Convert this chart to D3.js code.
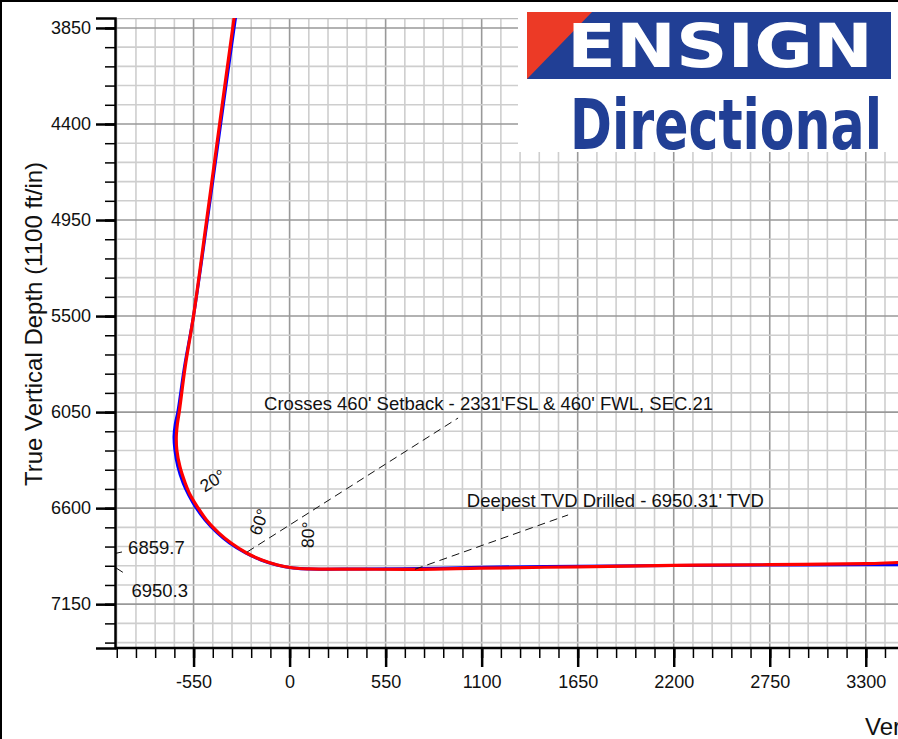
<!DOCTYPE html>
<html>
<head>
<meta charset="UTF-8">
<script src="https://d3js.org/d3.v7.min.js"></script>
<style>
    body { margin: 0; background: #fff; overflow: hidden; }
    text { font-family: "Liberation Sans", Arial, sans-serif; fill: #111; }
</style>
</head>
<body>
<div id="chart"></div>
<script>
    // actual wellbore (red) - vertical section (ft) and true vertical depth (ft)
    const actualVS  = [-304, -318, -400, -475, -551, -598, -632, -643, -649, -646, -628, -598, -569, -524, -476, -406, -335, -246, -159, -69, 24, 117, 400, 747, 1100, 1650, 2200, 2750, 3300, 3500, 3800];
    const actualTVD = [3700, 3793, 4394, 4950, 5504, 5790, 6048, 6120, 6190, 6267, 6363, 6456, 6525, 6599, 6668, 6742, 6800, 6857, 6897, 6926, 6943, 6948, 6949.5, 6950.3, 6944, 6936, 6928, 6924, 6918, 6911, 6905];

    // plan (blue)
    const planVS  = [-296, -310, -394, -471, -551, -602, -640, -655, -662, -657, -640, -610, -578, -535, -484, -414, -344, -252, -164, -73, 20, 115, 400, 747, 1100, 1650, 2200, 2750, 3300, 3800];
    const planTVD = [3700, 3793, 4394, 4950, 5504, 5790, 6048, 6120, 6190, 6267, 6363, 6456, 6525, 6599, 6668, 6742, 6800, 6857, 6897, 6926, 6943, 6949, 6948, 6946, 6938, 6933, 6929, 6926, 6924, 6923];

    // tick values
    const vsMajor  = d3.range(-550, 3301, 550);
    const vsMinor  = d3.range(-990, 3600, 110);
    const tvdMajor = d3.range(3850, 7400, 550);
    const tvdMinor = d3.range(3850, 7401, 110);

    // annotations
    const notes = [
        {text: "Crosses 460' Setback - 2331'FSL & 460' FWL, SEC.21", vs: -146, tvd: 6038, fromVS: -243, fromTVD: 6851, toVS: 965, toTVD: 6084},
        {text: "Deepest TVD Drilled - 6950.31' TVD", vs: 1015, tvd: 6592, fromVS: 718, fromTVD: 6950, toVS: 1595, toTVD: 6639}
    ];
    const angleLabels = [
        {text: "20°", vs: -486, tvd: 6512, rot: -32},
        {text: "60°", vs: -168, tvd: 6762, rot: -70},
        {text: "80°", vs: 137, tvd: 6830, rot: -88}
    ];
    const depthMarks = [6859.7, 6950.3];

    const W = 898, H = 739;
    const mLeft = 115, mTop = 18, mBottom = 648;

    const svg = d3.select("#chart").append("svg")
        .attr("width", W).attr("height", H);

    // same ft-per-pixel scale on both axes
    const x = d3.scaleLinear().domain([-1000, 4000]).range([mLeft, mLeft + 5000 * 0.1746]);
    const y = d3.scaleLinear().domain([3793, 7401]).range([mTop, mBottom]);

    svg.append("clipPath").attr("id", "plotclip")
        .append("rect").attr("x", mLeft).attr("y", mTop)
        .attr("width", W - mLeft).attr("height", mBottom - mTop);

    const plot = svg.append("g").attr("clip-path", "url(#plotclip)");

    // grid
    plot.selectAll(".vgrid").data(vsMinor).join("line")
        .attr("x1", d => x(d)).attr("x2", d => x(d))
        .attr("y1", mTop).attr("y2", mBottom)
        .attr("stroke", d => d % 550 === 0 ? "#999" : "#cecece")
        .attr("stroke-width", 1.6);
    plot.selectAll(".hgrid").data(tvdMinor).join("line")
        .attr("x1", mLeft).attr("x2", W)
        .attr("y1", d => y(d)).attr("y2", d => y(d))
        .attr("stroke", d => (d - 3850) % 550 === 0 ? "#999" : "#cecece")
        .attr("stroke-width", 1.6);
    plot.append("line")
        .attr("x1", mLeft).attr("x2", W).attr("y1", mTop + 0.5).attr("y2", mTop + 0.5)
        .attr("stroke", "#bbb").attr("stroke-width", 1.5);

    // wells
    const line = d3.line()
        .x(d => x(d[0])).y(d => y(d[1]))
        .curve(d3.curveCatmullRom.alpha(0.5));

    plot.append("path")
        .attr("d", line(d3.zip(planVS, planTVD)))
        .attr("fill", "none").attr("stroke", "#0000ff").attr("stroke-width", 3);
    plot.append("path")
        .attr("d", line(d3.zip(actualVS, actualTVD)))
        .attr("fill", "none").attr("stroke", "#ff0000").attr("stroke-width", 3.2);

    // leader lines and notes
    plot.selectAll(".leader").data(notes).join("line")
        .attr("x1", d => x(d.fromVS)).attr("y1", d => y(d.fromTVD))
        .attr("x2", d => x(d.toVS)).attr("y2", d => y(d.toTVD))
        .attr("stroke", "#111").attr("stroke-width", 1)
        .attr("stroke-dasharray", "8,5");
    plot.selectAll(".note").data(notes).join("text")
        .attr("x", d => x(d.vs)).attr("y", d => y(d.tvd))
        .style("font-size", "18.5px")
        .text(d => d.text);

    plot.selectAll(".angle").data(angleLabels).join("text")
        .attr("transform", d => `translate(${x(d.vs)},${y(d.tvd)}) rotate(${d.rot})`)
        .style("font-size", "17.5px")
        .text(d => d.text);

    // depth marks on the left
    plot.append("line")
        .attr("x1", x(-1000)).attr("y1", y(depthMarks[0]))
        .attr("x2", x(-960)).attr("y2", y(depthMarks[0]) - 1.5)
        .attr("stroke", "#111").attr("stroke-width", 1);
    plot.append("line")
        .attr("x1", x(-1000)).attr("y1", y(depthMarks[1]) - 2)
        .attr("x2", x(-955)).attr("y2", y(depthMarks[1]) + 3)
        .attr("stroke", "#111").attr("stroke-width", 1);
    plot.append("text")
        .attr("x", x(-925)).attr("y", y(depthMarks[0]) + 1)
        .style("font-size", "18.5px").text(depthMarks[0].toFixed(1));
    plot.append("text")
        .attr("x", x(-906)).attr("y", y(depthMarks[1]) + 28)
        .style("font-size", "18.5px").text(depthMarks[1].toFixed(1));

    // logo
    const logo = svg.append("g");
    logo.append("rect").attr("x", 518).attr("y", 0).attr("width", 380).attr("height", 152).attr("fill", "#fff");
    logo.append("rect").attr("x", 527).attr("y", 12).attr("width", 364).attr("height", 67).attr("fill", "#213f95");
    logo.append("path").attr("d", "M527,12 L592,12 L527,79 Z").attr("fill", "#ec3a26");

    function fitText(sel, x0, width) {
        const w = sel.node().getComputedTextLength();
        sel.attr("x", 0).attr("transform", `translate(${x0},0) scale(${width / w},1)`);
    }
    const ensign = logo.append("text").attr("y", 67)
        .style("font-family", "'DejaVu Sans', sans-serif").style("font-weight", "bold")
        .style("font-size", "60px").style("fill", "#fff").text("ENSIGN");
    fitText(ensign, 567, 306);
    const directional = logo.append("text").attr("y", 149)
        .style("font-family", "'DejaVu Sans Condensed', 'DejaVu Sans', sans-serif").style("font-weight", "bold")
        .style("font-size", "70px").style("fill", "#213f95").text("Directional");
    fitText(directional, 570, 312);

    // axes
    const fmt = d => String(d);
    const gx = svg.append("g").attr("transform", `translate(0,${mBottom})`);
    gx.append("g").call(d3.axisBottom(x).tickValues(vsMinor).tickSize(10).tickFormat(""))
        .call(g => g.select(".domain").remove());
    gx.append("g").call(d3.axisBottom(x).tickValues(vsMajor).tickSize(19).tickPadding(8).tickFormat(fmt))
        .call(g => g.select(".domain").attr("d", `M${mLeft},0H${W + 10}`));

    const gy = svg.append("g").attr("transform", `translate(${mLeft},0)`);
    gy.append("g").call(d3.axisLeft(y).tickValues(tvdMinor).tickSize(10).tickFormat(""))
        .call(g => g.select(".domain").remove());
    gy.append("g").call(d3.axisLeft(y).tickValues(tvdMajor).tickSize(19).tickPadding(5).tickFormat(fmt));

    svg.selectAll(".domain").attr("stroke", "#000").attr("stroke-width", 2.5);
    svg.selectAll(".tick line").attr("stroke", "#000").attr("stroke-width", 1.5);
    svg.selectAll(".tick text").style("font-size", "18px").style("font-family", "'Liberation Sans', Arial, sans-serif").attr("fill", "#111");
    gx.selectAll(".tick").filter(d => vsMajor.includes(d)).select("line").attr("stroke-width", 2.5);
    gy.selectAll(".tick").filter(d => tvdMajor.includes(d)).select("line").attr("stroke-width", 2.5);

    // axis titles
    svg.append("text")
        .attr("transform", "translate(42,324) rotate(-90)")
        .attr("text-anchor", "middle")
        .style("font-size", "24px")
        .text("True Vertical Depth (1100 ft/in)");
    svg.append("text")
        .attr("x", 865).attr("y", 735)
        .style("font-size", "24px")
        .text("Vertical Section (1100 ft/in)");

    // frame
    svg.append("rect").attr("x", 1).attr("y", 1).attr("width", W + 20).attr("height", H + 20)
        .attr("fill", "none").attr("stroke", "#000").attr("stroke-width", 2);
</script>
</body>
</html>
